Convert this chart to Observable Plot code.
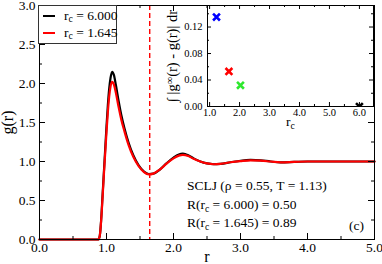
<!DOCTYPE html>
<html><head><meta charset="utf-8">
<script src="https://cdn.jsdelivr.net/npm/d3@7"></script>
<script src="https://cdn.jsdelivr.net/npm/@observablehq/plot@0.6"></script>
<style>
body{margin:0;background:#fff;}
#wrap{position:relative;width:382px;height:264px;font-family:"Liberation Serif","Times New Roman",serif;}
#wrap svg{position:absolute;overflow:visible;}
#legend{position:absolute;left:38px;top:5px;width:77px;height:37px;border:1px solid #333;background:#fff;font-size:13.5px;box-sizing:content-box;}
#legend .row{position:absolute;left:4px;height:14px;display:flex;align-items:center;white-space:nowrap;}
#legend .sw{display:inline-block;width:12px;height:2px;margin-right:9px;}
#legend sub{font-size:0.72em;vertical-align:-0.25em;line-height:0;}
</style></head>
<body><div id="wrap"></div>
<script>
// ---- data ----
const r = [0, 0.88, 0.90, 0.92, 0.94, 0.96, 0.98, 1.00, 1.02, 1.04, 1.06, 1.085, 1.11, 1.14, 1.18, 1.22, 1.27, 1.33, 1.40, 1.48, 1.56, 1.63, 1.70, 1.80, 1.90, 2.00, 2.08, 2.14, 2.22, 2.30, 2.40, 2.50, 2.60, 2.70, 2.85, 3.00, 3.15, 3.30, 3.45, 3.60, 3.80, 4.00, 4.50, 5.00];
const gFull = [0, 0, 0.05, 0.25, 0.55, 0.85, 1.15, 1.45, 1.72, 1.93, 2.07, 2.15, 2.11, 1.98, 1.78, 1.60, 1.42, 1.24, 1.08, 0.95, 0.87, 0.84, 0.845, 0.90, 0.98, 1.05, 1.09, 1.10, 1.08, 1.04, 1.00, 0.975, 0.965, 0.97, 0.99, 1.01, 1.02, 1.015, 1.00, 0.99, 0.995, 1.00, 1.00, 1.00];
const gCut = [0, 0, 0.05, 0.24, 0.52, 0.82, 1.10, 1.38, 1.63, 1.83, 1.96, 2.02, 1.99, 1.88, 1.70, 1.54, 1.38, 1.21, 1.06, 0.94, 0.865, 0.835, 0.845, 0.90, 0.975, 1.04, 1.075, 1.085, 1.07, 1.035, 1.00, 0.975, 0.965, 0.97, 0.99, 1.005, 1.015, 1.01, 1.00, 0.99, 0.995, 1.00, 1.00, 1.00];
const seriesNames = ["r_c = 6.000", "r_c = 1.645"];
const seriesColors = ["black", "red"];
const rcCutoff = 1.645;

const insetRc = [1.23, 1.645, 2.03, 6.0];
const insetDev = [0.135, 0.053, 0.032, 0.0];
const insetColors = ["#0000ff", "#ff0000", "#2ee82e", "#000000"];

const mainXMajor = [0, 1, 2, 3, 4, 5];
const mainXMinor = [0.5, 1.5, 2.5, 3.5, 4.5];
const mainYMajor = [0, 0.5, 1, 1.5, 2, 2.5, 3];
const mainYMinor = [0.25, 0.75, 1.25, 1.75, 2.25, 2.75];
const insetXMajor = [1, 2, 3, 4, 5, 6];
const insetXMinor = [1.5, 2.5, 3.5, 4.5, 5.5];
const insetYMajor = [0, 0.04, 0.08, 0.12];
const insetYMinor = [0.02, 0.06, 0.10, 0.14];

const notes = ["SCLJ (ρ = 0.55, T = 1.13)", "R(r_c = 6.000) = 0.50", "R(r_c = 1.645) = 0.89"];
const noteX = [2.2, 2.2, 2.2];
const noteY = [0.69, 0.445, 0.215];

// ---- helpers ----
const tbl = r.map((x, i) => ({r: x, g: gFull[i], s: seriesNames[0]}))
  .concat(r.map((x, i) => ({r: x, g: gCut[i], s: seriesNames[1]})));
function tickRules(xMaj, xMin, yMaj, yMin, pw, ph, L, l) {
  const o = {stroke: "black", strokeWidth: 1};
  return [
    Plot.ruleX(xMaj, {...o, insetTop: ph - L}), Plot.ruleX(xMin, {...o, insetTop: ph - l}),
    Plot.ruleX(xMaj, {...o, insetBottom: ph - L}), Plot.ruleX(xMin, {...o, insetBottom: ph - l}),
    Plot.ruleY(yMaj, {...o, insetRight: pw - L}), Plot.ruleY(yMin, {...o, insetRight: pw - l}),
    Plot.ruleY(yMaj, {...o, insetLeft: pw - L}), Plot.ruleY(yMin, {...o, insetLeft: pw - l})
  ];
}
function scripts(svg) {
  d3.select(svg).selectAll("text").each(function () {
    const t = this.textContent;
    if (!/_c|\^∞/.test(t)) return;
    const parts = t.split(/(_c|\^∞)/);
    const el = d3.select(this);
    el.text(null);
    let shift = 0;
    for (const p of parts) {
      if (p === "_c" || p === "^∞") {
        const d = p === "_c" ? 0.3 : -0.4;
        el.append("tspan").attr("dy", d + "em").attr("font-size", "0.72em").text(p.slice(1));
        shift = d;
      } else if (p) {
        const ts = el.append("tspan").text(p);
        if (shift) { ts.attr("dy", (-shift * 0.72) + "em"); }
        shift = 0;
      }
    }
  });
}

// ---- main plot ----
const W = 382, H = 264, mL = 39, mR = 8, mT = 5, mB = 25;
const pw = W - mL - mR, ph = H - mT - mB;
const fmt1 = d3.format(".1f");
const main = Plot.plot({
  width: W, height: H, marginLeft: mL, marginRight: mR, marginTop: mT, marginBottom: mB,
  style: {fontFamily: "Liberation Serif, Times New Roman, serif", fontSize: "13.5px", background: "transparent", color: "black"},
  x: {domain: [0, 5], label: null},
  y: {domain: [0, 3], label: null},
  color: {domain: seriesNames, range: seriesColors},
  marks: [
    Plot.ruleX([rcCutoff], {stroke: "#ff0000", strokeWidth: 1.4, strokeDasharray: "5,3"}),
    Plot.line(tbl, {x: "r", y: "g", stroke: "s", z: "s", strokeWidth: 2.2, curve: "monotone-x"}),
    ...tickRules(mainXMajor, mainXMinor, mainYMajor, mainYMinor, pw, ph, 6, 3),
    Plot.frame({stroke: "black"}),
    Plot.axisX(mainXMajor, {tickSize: 0, tickPadding: 3, tickFormat: fmt1, fontSize: 13.5}),
    Plot.axisY(mainYMajor, {tickSize: 0, tickPadding: 4, tickFormat: fmt1, fontSize: 13.5}),
    Plot.text(["r"], {frameAnchor: "bottom", dy: 11, lineAnchor: "top", fontSize: 16}),
    Plot.text(["g(r)"], {frameAnchor: "left", dx: -32, rotate: -90, textAnchor: "middle", lineAnchor: "middle", fontSize: 16}),
    Plot.text(notes, {x: (d, i) => noteX[i], y: (d, i) => noteY[i], textAnchor: "start", lineAnchor: "middle", fontSize: 13.5}),
    Plot.text(["(c)"], {frameAnchor: "bottom-right", dx: -18, dy: -10, textAnchor: "middle", lineAnchor: "bottom", fontSize: 13.5})
  ]
});
main.style.left = "0px"; main.style.top = "0px";
scripts(main);

// ---- inset ----
const iW = 222, iH = 130, iL = 47, iR = 9, iT = 5, iB = 24;
const ipw = iW - iL - iR, iph = iH - iT - iB;
const inset = Plot.plot({
  width: iW, height: iH, marginLeft: iL, marginRight: iR, marginTop: iT, marginBottom: iB,
  style: {fontFamily: "Liberation Serif, Times New Roman, serif", fontSize: "10px", background: "transparent", color: "black"},
  x: {domain: [0.93, 6.47], label: null},
  y: {domain: [0, 0.1525], label: null},
  marks: [
    Plot.frame({fill: "white", stroke: "none"}),
    ...tickRules(insetXMajor, insetXMinor, insetYMajor, insetYMinor, ipw, iph, 4, 2),
    Plot.dot(insetRc, {x: d => d, y: (d, i) => insetDev[i], stroke: (d, i) => insetColors[i], symbol: "times", r: 3.2, strokeWidth: 2.6, clip: true}),
    Plot.frame({stroke: "black"}),
    Plot.axisX(insetXMajor, {tickSize: 0, tickPadding: 2, tickFormat: fmt1, fontSize: 10.5}),
    Plot.axisY(insetYMajor, {tickSize: 0, tickPadding: 5, tickFormat: d3.format(".2f"), fontSize: 10.5}),
    Plot.text(["r_c"], {frameAnchor: "bottom", dy: 10, lineAnchor: "top", fontSize: 13.5}),
    Plot.text(["∫ |g^∞(r) - g(r)| dr"], {frameAnchor: "left", dx: -35, rotate: -90, textAnchor: "middle", lineAnchor: "middle", fontSize: 14.5})
  ]
});
inset.style.left = "160px"; inset.style.top = "0px";
scripts(inset);

const wrap = document.getElementById("wrap");
wrap.append(main, inset);
// legend
const lg = document.createElement("div");
lg.id = "legend";
seriesNames.forEach((n, i) => {
  const row = document.createElement("div");
  row.className = "row";
  row.style.top = (3 + i * 17) + "px";
  const [a, b] = n.split("_c");
  row.innerHTML = `<span class="sw" style="background:${seriesColors[i]}"></span><span>${a}<sub>c</sub>${b}</span>`;
  lg.append(row);
});
wrap.append(lg);
</script></body></html>
